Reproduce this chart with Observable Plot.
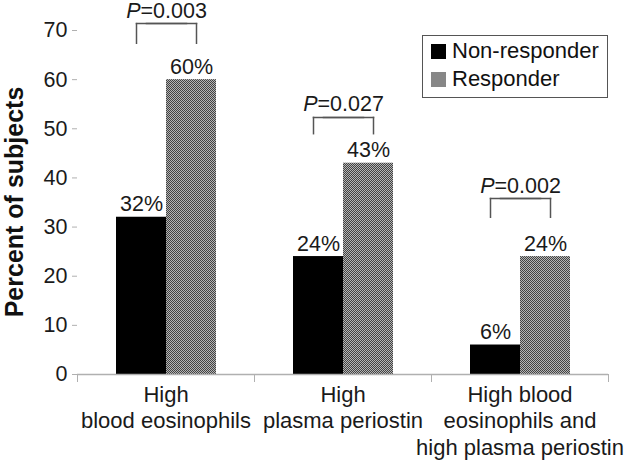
<!DOCTYPE html>
<html>
<head>
<meta charset="utf-8">
<script src="https://cdn.jsdelivr.net/npm/d3@7"></script>
<script src="https://cdn.jsdelivr.net/npm/@observablehq/plot@0.6"></script>
<style>
  body { margin: 0; background: #fff; font-family: "Liberation Sans", Arial, sans-serif; }
  #wrap { position: relative; width: 632px; height: 461px; overflow: hidden; }
  #ytitle { position: absolute; left: 14px; top: 202px; transform: translate(-50%, -50%) rotate(-90deg);
            white-space: nowrap; font-weight: bold; font-size: 25px; line-height: 1; color: #111; }
  #legend { position: absolute; left: 422px; top: 35px; width: 186px; height: 63px; box-sizing: border-box;
            border: 1px solid #555; background: #fff; font-size: 22px; color: #111; }
  .row { position: absolute; left: 8px; display: flex; align-items: center; }
  .sw { width: 15px; height: 15px; margin-right: 6px; }
</style>
</head>
<body>
<div id="wrap"></div>
<script>
const categories = ["High\nblood eosinophils", "High\nplasma periostin", "High blood\neosinophils and\nhigh plasma periostin"];
const series = ["Non-responder", "Responder"];
const nonResponder = [32, 24, 6];
const responder = [60, 43, 24];
const pValues = ["0.003", "0.027", "0.002"];
const bracketTop = [71.4, 52.3, 35.8];
const bracketBottom = [67.4, 49.0, 32.0];
const yTicks = [0, 10, 20, 30, 40, 50, 60, 70];

const bars = categories.flatMap((c, i) => [
  {category: c, series: series[0], value: nonResponder[i]},
  {category: c, series: series[1], value: responder[i]}
]);
const brackets = categories.map((c, i) => ({category: c, p: pValues[i], top: bracketTop[i], bottom: bracketBottom[i]}));

const gray = "#b0b0b0";
const ink = "#1a1a1a";
const bstroke = {stroke: "#555", strokeWidth: 1.5, strokeLinecap: "square"};

const plot = Plot.plot({
  width: 632,
  height: 461,
  marginTop: 30,
  marginBottom: 87,
  marginLeft: 77,
  marginRight: 24,
  style: {fontFamily: "Liberation Sans, Arial, sans-serif", fontSize: "21.5px", color: ink, background: "white", overflow: "visible"},
  fx: {domain: categories, padding: 0, label: null},
  x: {domain: series, paddingInner: 0, paddingOuter: 0.75, axis: null},
  y: {domain: [0, 70], label: null},
  color: {domain: series, range: ["#000000", "url(#checker)"]},
  marks: [
    Plot.barY(bars, {fx: "category", x: "series", y: "value", fill: "series"}),
    Plot.ruleY([0], {stroke: gray, strokeWidth: 1.5}),
    Plot.axisY({ticks: yTicks, tickSize: 5, tickPadding: 5, stroke: gray, fill: ink, fontSize: 21.5, label: null, line: true}),
    Plot.axisFx({anchor: "bottom", tickSize: 0, tickPadding: 8, fontSize: 22, lineHeight: 1.22, fill: ink, label: null}),
    Plot.axisFx({anchor: "bottom", tickSize: 8, tickFormat: () => "", stroke: gray, dx: -88.5, label: null}),
    Plot.axisFx({anchor: "bottom", ticks: [categories[2]], tickSize: 8, tickFormat: () => "", stroke: gray, dx: 88.5, label: null}),
    Plot.text(bars, {fx: "category", x: "series", y: "value", text: d => d.value + "%", lineAnchor: "bottom", dy: -6, fontSize: 21.5, fill: ink}),
    Plot.link(brackets, {fx: "category", x1: () => series[0], x2: () => series[1], y1: "top", y2: "top", dx: -5, ...bstroke}),
    Plot.link(brackets, {fx: "category", x1: () => series[0], x2: () => series[1], y1: "top", y2: "top", dx: 5, ...bstroke}),
    Plot.link(brackets, {fx: "category", x1: () => series[0], x2: () => series[0], y1: "top", y2: "bottom", dx: -5, ...bstroke}),
    Plot.link(brackets, {fx: "category", x1: () => series[1], x2: () => series[1], y1: "top", y2: "bottom", dx: 5, ...bstroke}),
    Plot.text(brackets, {fx: "category", x: () => series[0], y: "top", text: d => "P=" + d.p, dx: 25, dy: -6, lineAnchor: "bottom", fontSize: 21.5, fill: ink, className: "plabel"})
  ]
});

// checker pattern for the Responder bars
const ns = "http://www.w3.org/2000/svg";
const defs = document.createElementNS(ns, "defs");
defs.innerHTML = '<pattern id="checker" patternUnits="userSpaceOnUse" width="2" height="2">' +
  '<rect width="2" height="2" fill="#b5b5b5"/>' +
  '<rect width="1" height="1" fill="#424242"/>' +
  '<rect x="1" y="1" width="1" height="1" fill="#424242"/></pattern>';
plot.insertBefore(defs, plot.firstChild);

// italic P in the p-value labels
plot.querySelectorAll("g.plabel text").forEach(t => {
  const s = t.textContent;
  t.textContent = "";
  const a = document.createElementNS(ns, "tspan");
  a.setAttribute("font-style", "italic");
  a.textContent = s.slice(0, 1);
  const b = document.createElementNS(ns, "tspan");
  b.textContent = s.slice(1);
  t.appendChild(a); t.appendChild(b);
});

const wrap = document.getElementById("wrap");
wrap.appendChild(plot);

const yt = document.createElement("div");
yt.id = "ytitle";
yt.textContent = "Percent of subjects";
wrap.appendChild(yt);

const legend = document.createElement("div");
legend.id = "legend";
const swColors = ["#000", "#878787"];
series.forEach((s, i) => {
  const row = document.createElement("div");
  row.className = "row";
  row.style.top = (i === 0 ? 2 : 30) + "px";
  const sw = document.createElement("div");
  sw.className = "sw";
  sw.style.background = swColors[i];
  const lab = document.createElement("span");
  lab.textContent = s;
  row.appendChild(sw); row.appendChild(lab);
  legend.appendChild(row);
});
wrap.appendChild(legend);
</script>
</body>
</html>
